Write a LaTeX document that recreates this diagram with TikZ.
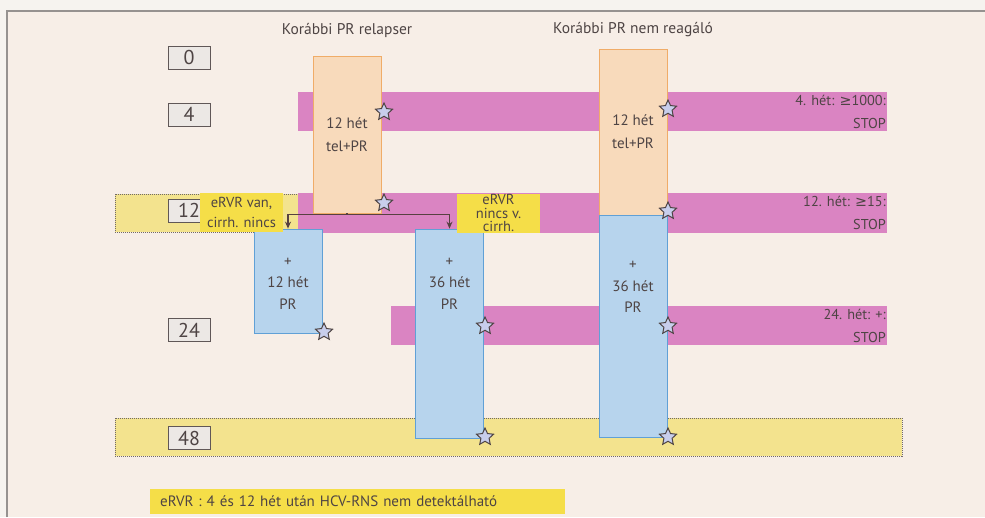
\documentclass[tikz,border=0pt]{standalone}
\usepackage{fontspec}
\setmainfont{PT Sans}
\newfontfamily\dejavu{DejaVu Sans}
\newcommand\gesym{{\dejavu ≥}}
\usetikzlibrary{arrows.meta,shapes.geometric}
\definecolor{paper}{RGB}{246,243,239}
\definecolor{panel}{RGB}{247,238,231}
\definecolor{rule}{RGB}{150,146,144}
\definecolor{ink}{RGB}{78,68,68}
\definecolor{plum}{RGB}{218,132,194}
\definecolor{rust}{RGB}{240,172,104}
\definecolor{steel}{RGB}{96,160,214}
\definecolor{lemon}{RGB}{245,222,72}
\definecolor{straw}{RGB}{243,227,142}
\definecolor{stone}{RGB}{236,232,229}
\definecolor{lilac}{RGB}{200,206,236}
\tikzset{
  >={Stealth[length=7pt,width=6pt]},
  wk/.style={draw=ink!90,fill=stone,line width=1pt,minimum width=42pt,minimum height=23pt,
    inner sep=0pt,font=\fontsize{20}{20}\selectfont,text=ink},
  phase/.style={draw=#1,fill=#1!45!white,line width=0.8pt,minimum width=68pt,inner sep=0pt,
    align=center,text=ink,font=\fontsize{15}{23}\selectfont},
  phase/.default=rust,
  txt/.style={align=center,text=ink,font=\fontsize{15}{21.5}\selectfont,inner sep=0pt},
  tag/.style={fill=lemon,minimum width=83pt,minimum height=39pt,inner sep=0pt,align=center,
    text=ink,font=\fontsize{14.5}{#1}\selectfont},
  tag/.default=19.5,
  stoptxt/.style={anchor=east,align=right,text=ink,inner sep=0pt,font=\fontsize{14.3}{23}\selectfont},
  head/.style={text=ink,font=\fontsize{15.5}{15.5}\selectfont},
  zone/.style={fill=straw,draw=ink!80,line width=1pt,densely dotted},
  band/.style={fill=plum},
  starmark/.style={star,star points=5,star point ratio=2.1,draw=ink,fill=lilac,line width=1pt,
    minimum size=18pt,inner sep=0pt},
  link/.style={draw=ink!95!red,line width=1.3pt},
}
\begin{document}
\begin{tikzpicture}[x=1pt,y=-1pt]
  \useasboundingbox (0,0) rectangle (985,517);
  \fill[paper] (0,0) rectangle (985,517);
  \fill[panel] (7,11) rectangle (985,517);
  \draw[rule,line width=1.2pt] (7,517) -- (7,11) -- (985,11);

  % background zones
  \path[zone] (115,194) rectangle (300,232);
  \path[zone] (115,418) rectangle (902,456);
  \fill[band] (298,92) rectangle (887,131);
  \fill[band] (298,193) rectangle (887,233);
  \fill[band] (391,306) rectangle (887,345);

  \node[head] (h1) at (347,30) {Korábbi PR relapser};
  \node[head] (h2) at (633,30) {Korábbi PR nem reagáló};

  % weeks
  \node[wk] (w0) at (189,57.5) {0};
  \node[wk] (w4) at (189,114.5) {4};
  \node[wk] (w12) at (189,210.5) {12};
  \node[wk] (w24) at (189,330) {24};
  \node[wk] (w48) at (189,438) {48};

  % treatment columns
  \node[phase,minimum height=157pt] (t1) at (347,134.5) {12 hét\\tel+PR};
  \node[phase,minimum height=166pt] (t2) at (633,132) {12 hét\\tel+PR};
  \node[phase=steel,minimum height=104pt] (b1) at (288,281) {};
  \node[phase=steel,minimum height=209pt] (b2) at (449.5,333.5) {};
  \node[phase=steel,minimum height=222pt] (b3) at (633,326) {};
  \node[txt] (b1t) at (288,283.5) {+\\12 hét\\PR};
  \node[txt] (b2t) at (449.5,283.5) {+\\36 hét\\PR};
  \node[txt] (b3t) at (633,287) {+\\36 hét\\PR};

  \node[starmark] (s1) at (384,112) {};
  \node[starmark] (s2) at (384,203) {};
  \node[starmark] (s3) at (324,332) {};
  \node[starmark] (s4) at (485,326) {};
  \node[starmark] (s5) at (485,437) {};
  \node[starmark] (s6) at (668,109) {};
  \node[starmark] (s7) at (668,211) {};
  \node[starmark] (s8) at (668,326) {};
  \node[starmark] (s9) at (668,437) {};

  \node[tag] (l1) at (241.5,212.5) {eRVR van,\\cirrh. nincs};
  \node[tag=13.5] (l2) at (498.5,213) {eRVR\\nincs v.\\cirrh.};

  \draw[link,->] (t1.south) -- ++(0,1) -| (b1.north);
  \draw[link,->] (t1.south) -- ++(0,1) -| (b2.north);

  \node[stoptxt] (x4) at (886,112) {4. hét: \gesym1000:\\STOP};
  \node[stoptxt] (x12) at (886,213) {12. hét: \gesym15:\\STOP};
  \node[stoptxt] (x24) at (886,325.5) {24. hét: +:\\STOP};

  \node[fill=lemon,anchor=west,minimum height=25pt,text width=395pt,inner xsep=10pt,inner ysep=0pt,
    align=left,text=ink,font=\fontsize{15}{15}\selectfont] (fn) at (150,501.5)
    {eRVR : 4 és 12 hét után HCV-RNS nem detektálható};
\end{tikzpicture}
\end{document}
